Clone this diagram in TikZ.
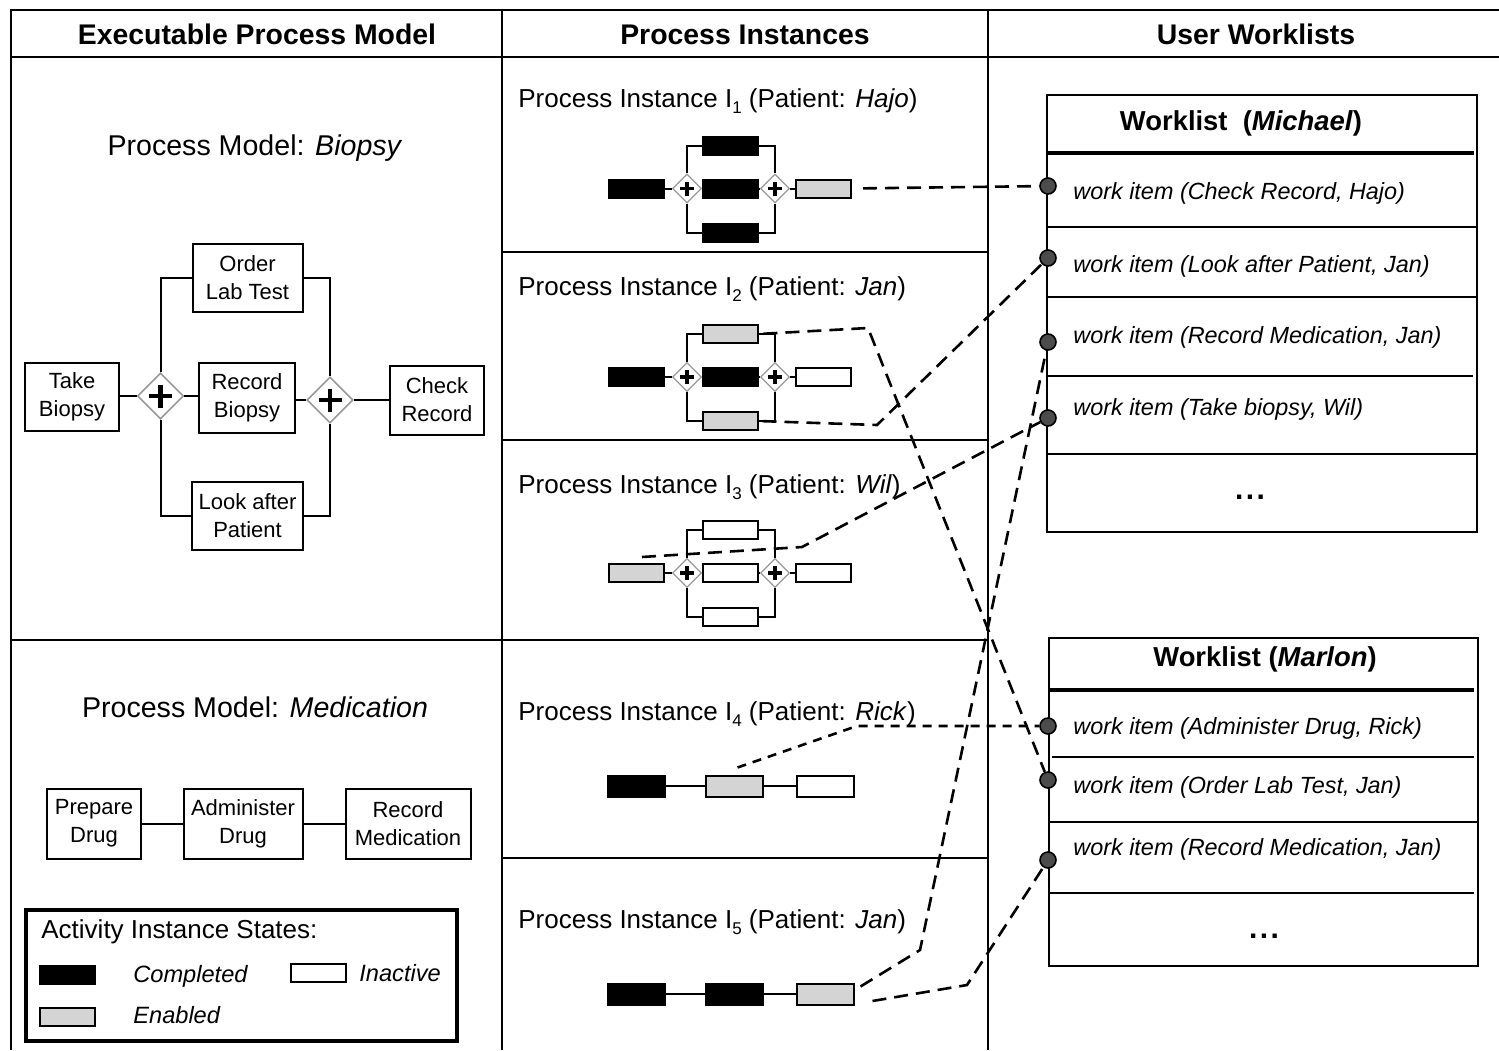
\documentclass[tikz,border=0pt]{standalone}
\usepackage{fontspec}
\setmainfont{Liberation Sans}
\usetikzlibrary{shapes.geometric,calc}
\definecolor{enabgray}{gray}{0.83}
\definecolor{pingray}{gray}{0.3}
\definecolor{gwgray}{gray}{0.6}
\tikzset{
 frame/.style={line width=1.2pt},
 hdr/.style={font=\bfseries\fontsize{14.2}{16}\selectfont, anchor=base},
 ttl/.style={font=\fontsize{14.3}{16}\selectfont, anchor=base},
 ittl/.style={font=\fontsize{13}{15}\selectfont, anchor=base west, inner sep=0pt},
 act/.style={draw, line width=1pt, align=center, font=\fontsize{11}{14}\selectfont, inner sep=0pt},
 gw/.style={diamond, draw=gwgray, fill=white, line width=0.8pt, minimum width=23pt, minimum height=23pt, inner sep=0pt},
 sgw/.style={diamond, draw=gwgray, fill=white, line width=0.6pt, minimum width=14.5pt, minimum height=14.5pt, inner sep=0pt},
 ibox/.style={draw, line width=1pt, minimum width=27.5pt, minimum height=9pt, inner sep=0pt},
 done/.style={ibox, fill=black},
 enab/.style={ibox, fill=enabgray},
 inact/.style={ibox, fill=white},
 lbox/.style={draw, line width=1pt, minimum width=28.5pt, minimum height=10.5pt, inner sep=0pt},
 ldone/.style={lbox, fill=black},
 lenab/.style={lbox, fill=enabgray},
 linact/.style={lbox, fill=white},
 flow/.style={line width=1pt},
 conn/.style={dash pattern=on 7pt off 4pt, line width=1.3pt},
 fconn/.style={dash pattern=on 4.5pt off 3.5pt, line width=1.3pt},
 wpin/.style={circle, draw, fill=pingray, line width=0.8pt, minimum size=8pt, inner sep=0pt},
 wlist/.style={line width=1pt},
 wthick/.style={line width=2.3pt},
 wtitle/.style={font=\bfseries\fontsize{13.7}{16}\selectfont},
 witem/.style={font=\itshape\fontsize{11.7}{14}\selectfont, anchor=west, inner sep=0pt},
 wdots/.style={font=\bfseries\fontsize{15}{17}\selectfont, anchor=base},
 legtxt/.style={font=\itshape\fontsize{11.8}{14}\selectfont, anchor=west, inner sep=0pt},
}
\newcommand{\gwplus}[3]{%
 \draw[line width=#3] ($(#1)+(-#2,0)$) -- ($(#1)+(#2,0)$) ($(#1)+(0,-#2)$) -- ($(#1)+(0,#2)$);}
\newcommand{\isub}[1]{\raisebox{-0.45ex}{\fontsize{8.5}{9}\selectfont #1}}
\newcommand{\wdotsym}{.\kern1.2pt.\kern1.2pt.}
\newcommand{\parinst}[7]{%
 \node[#3] (#1a) at (636,#2) {};
 \node[sgw] (#1g) at (687,#2) {};
 \node[#4] (#1t) at (730,#2-43) {};
 \node[#5] (#1m) at (730,#2) {};
 \node[#6] (#1b) at (730,#2+44) {};
 \node[sgw] (#1h) at (775,#2) {};
 \node[#7] (#1e) at (823.5,#2) {};
 \draw[flow] (#1a) -- (#1g);
 \draw[flow] (#1g) -- (#1m);
 \draw[flow] (#1m) -- (#1h);
 \draw[flow] (#1h) -- (#1e);
 \draw[flow] (#1g.north) |- (#1t.west);
 \draw[flow] (#1g.south) |- (#1b.west);
 \draw[flow] (#1t.east) -| (#1h.north);
 \draw[flow] (#1b.east) -| (#1h.south);
 \gwplus{#1g}{7}{1.6pt}
 \gwplus{#1h}{7}{1.6pt}
}
\begin{document}
\begin{tikzpicture}[x=0.5pt,y=-0.5pt]
\useasboundingbox (0,0) rectangle (1499,1050);
% ---------- frame ----------
\draw[frame] (1499,10) -- (11,10) -- (11,1050);
\draw[frame] (11,57) -- (1499,57);
\draw[frame] (502,10) -- (502,1050);
\draw[frame] (988,10) -- (988,1050);
\draw[frame] (11,640) -- (502,640);
\foreach \yy in {252,440,640,858} \draw[frame] (502,\yy) -- (988,\yy);
% ---------- headers ----------
\node[hdr] (h1) at (257,44) {Executable Process Model};
\node[hdr] (h2) at (745,44) {Process Instances};
\node[hdr] (h3) at (1256,44) {User Worklists};
% ---------- Biopsy model ----------
\node[ttl] (tbio) at (255,155) {Process Model: \textit{Biopsy}};
\node[act, minimum width=47pt, minimum height=34pt] (tb) at (72,397) {Take\\Biopsy};
\node[act, minimum width=55pt, minimum height=34pt] (ol) at (247.5,278) {Order\\Lab Test};
\node[act, minimum width=48pt, minimum height=35pt] (rb) at (247,398) {Record\\Biopsy};
\node[act, minimum width=55.5pt, minimum height=34pt] (la) at (247.5,516) {Look after\\Patient};
\node[act, minimum width=47pt, minimum height=34.5pt] (cr) at (437,400) {Check\\Record};
\node[gw] (g1) at (160.5,396) {};
\node[gw] (g2) at (330,400) {};
\gwplus{g1}{11.5}{2.2pt}
\gwplus{g2}{11.5}{2.2pt}
\draw[flow] (g1.west -| tb.east) -- (g1.west);
\draw[flow] (g1.east) -- (g1.east -| rb.west);
\draw[flow] (g2.west -| rb.east) -- (g2.west);
\draw[flow] (g2.east) -- (g2.east -| cr.west);
\draw[flow] (g1.north) |- (ol.west);
\draw[flow] (g1.south) |- (la.west);
\draw[flow] (ol.east) -| (g2.north);
\draw[flow] (la.east) -| (g2.south);
% ---------- Medication model ----------
\node[ttl] (tmed) at (255,717) {Process Model: \textit{Medication}};
\node[act, minimum width=47pt, minimum height=35pt] (pd) at (94,823.5) {Prepare\\Drug};
\node[act, minimum width=59.5pt, minimum height=35pt] (ad) at (243,823.5) {Administer\\Drug};
\node[act, minimum width=62.5pt, minimum height=35pt] (rm) at (408,823.5) {Record\\Medication};
\draw[flow] (pd) -- (ad);
\draw[flow] (ad) -- (rm);
% ---------- legend ----------
\draw[line width=2.3pt] (26,910) rectangle (457,1041);
\node[font=\fontsize{13}{15}\selectfont, anchor=base west, inner sep=0pt] (lgt) at (41,938) {Activity Instance States:};
\node[done] (lc) at (67,974.5) {};
\node[legtxt] (lct) at (133,976) {Completed};
\node[inact] (li) at (318.5,973) {};
\node[legtxt] (lit) at (359,973) {Inactive};
\node[enab] (le) at (67,1017) {};
\node[legtxt] (let) at (133,1015) {Enabled};
% ---------- process instances ----------
\node[ittl] (t1) at (518,107) {Process Instance I\isub{1} (Patient: \textit{Hajo})};
\node[ittl] (t2) at (518,295) {Process Instance I\isub{2} (Patient: \textit{Jan})};
\node[ittl] (t3) at (518,493) {Process Instance I\isub{3} (Patient: \textit{Wil})};
\node[ittl] (t4) at (518,720) {Process Instance I\isub{4} (Patient: \textit{Rick})};
\node[ittl] (t5) at (518,928) {Process Instance I\isub{5} (Patient: \textit{Jan})};
\parinst{i1}{188.5}{done}{done}{done}{done}{enab}
\parinst{i2}{377}{done}{enab}{done}{enab}{inact}
\parinst{i3}{573}{enab}{inact}{inact}{inact}{inact}
% I4
\node[ldone] (i4a) at (636.5,786) {};
\node[lenab] (i4b) at (734.5,786) {};
\node[linact] (i4c) at (825,786) {};
\draw[flow] (i4a) -- (i4b);
\draw[flow] (i4b) -- (i4c);
% I5
\node[ldone] (i5a) at (636.5,994) {};
\node[ldone] (i5b) at (734.5,994) {};
\node[lenab] (i5c) at (825,994) {};
\draw[flow] (i5a) -- (i5b);
\draw[flow] (i5b) -- (i5c);
% ---------- worklist Michael ----------
\draw[wlist] (1047,95) rectangle (1477,532);
\draw[wthick] (1047,153) -- (1474,153);
\draw[wlist] (1047,227) -- (1477,227);
\draw[wlist] (1047,297) -- (1477,297);
\draw[wlist] (1047,376) -- (1473,376);
\draw[wlist] (1047,454) -- (1477,454);
\node[wtitle] (wm) at (1241,123) {Worklist\ \ (\textit{Michael})};
\node[witem] (mi1) at (1073,193) {work item (Check Record, Hajo)};
\node[witem] (mi2) at (1073,266) {work item (Look after Patient, Jan)};
\node[witem] (mi3) at (1073,337) {work item (Record Medication, Jan)};
\node[witem] (mi4) at (1073,409) {work item (Take biopsy, Wil)};
\node[wdots] (md) at (1250,499) {\wdotsym};
% ---------- worklist Marlon ----------
\draw[wlist] (1049,638) rectangle (1478,966);
\draw[wthick] (1049,690) -- (1474,690);
\draw[wlist] (1052,757) -- (1474,757);
\draw[wlist] (1049,822) -- (1478,822);
\draw[wlist] (1049,893) -- (1474,893);
\node[wtitle] (wk) at (1265,659) {Worklist (\textit{Marlon})};
\node[witem] (ki1) at (1073,728) {work item (Administer Drug, Rick)};
\node[witem] (ki2) at (1073,787) {work item (Order Lab Test, Jan)};
\node[witem] (ki3) at (1073,849) {work item (Record Medication, Jan)};
\node[wdots] (kd) at (1264,938) {\wdotsym};
% ---------- pins ----------
\node[wpin] (m1) at (1048,186) {};
\node[wpin] (m2) at (1048,258) {};
\node[wpin] (m3) at (1048,342) {};
\node[wpin] (m4) at (1048,418) {};
\node[wpin] (k1) at (1048,726) {};
\node[wpin] (k2) at (1048,780) {};
\node[wpin] (k3) at (1048,860) {};
% ---------- dashed links ----------
\coordinate (c2t) at (868,328);
\coordinate (c2b) at (877,425);
\coordinate (c3) at (802,547);
\coordinate (c4) at (857,726);
\coordinate (c5a) at (920,950);
\coordinate (c5b) at (967,985);
\draw[conn, shorten <=5.5pt] (i1e.east) -- (m1);
\draw[conn, shorten <=2.5pt] (i2t.east) -- (c2t) -- (k2);
\draw[conn, shorten <=2pt] (i2b.east) -- (c2b) -- (m2);
\draw[conn] ($(i3a.north)+(6,-6)$) -- (c3) -- (m4);
\draw[fconn] ($(i4b.north)+(3,-7)$) -- (c4) -- (k1);
\draw[conn] ($(i5c.north east)+(6,4)$) -- (c5a) -- (m3);
\draw[conn] ($(i5c.east)+(18,7)$) -- (c5b) -- (k3);
\end{tikzpicture}
\end{document}
